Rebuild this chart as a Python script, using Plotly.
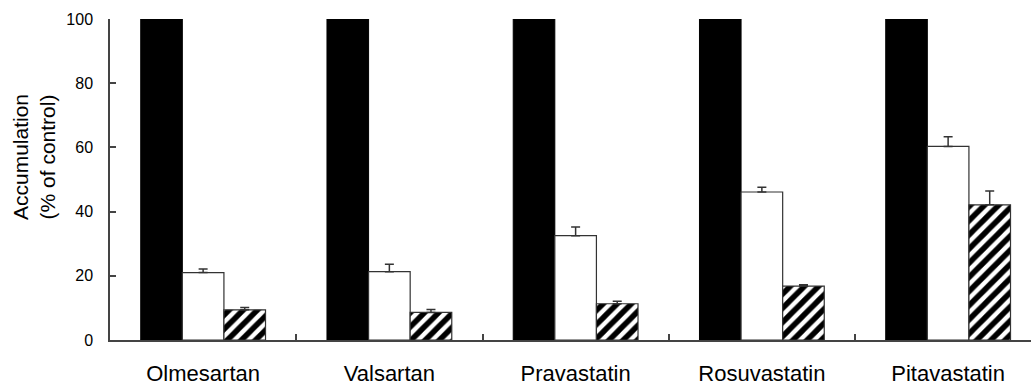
import plotly.graph_objects as go

categories = ["Olmesartan", "Valsartan", "Pravastatin", "Rosuvastatin", "Pitavastatin"]
control = [100, 100, 100, 100, 100]
white_vals = [21.0, 21.3, 32.5, 46.1, 60.3]
white_err = [1.1, 2.3, 2.7, 1.5, 3.0]
hatch_vals = [9.4, 8.6, 11.3, 16.8, 42.1]
hatch_err = [0.7, 0.9, 0.8, 0.4, 4.3]
y_ticks = [0, 20, 40, 60, 80, 100]

FONT = "Liberation Sans, Arial, sans-serif"
AX = "#444444"

fig = go.Figure()
fig.add_trace(go.Bar(
    x=categories, y=control, name="Control",
    marker=dict(color="black", line=dict(color="black", width=1)),
))
fig.add_trace(go.Bar(
    x=categories, y=white_vals, name="Condition 1",
    marker=dict(color="white", line=dict(color="#333333", width=1.2)),
    error_y=dict(type="data", symmetric=False, array=white_err,
                 arrayminus=[0] * len(white_err), color="#333333",
                 thickness=1.5, width=4.5),
))
fig.add_trace(go.Bar(
    x=categories, y=hatch_vals, name="Condition 2",
    marker=dict(color="white", line=dict(color="#333333", width=1.2),
                pattern=dict(shape="/", fgcolor="black", bgcolor="white",
                             fgopacity=1, size=10, solidity=0.55)),
    error_y=dict(type="data", symmetric=False, array=hatch_err,
                 arrayminus=[0] * len(hatch_err), color="#333333",
                 thickness=1.5, width=4.5),
))

fig.update_layout(
    width=1031, height=386,
    margin=dict(l=110, r=0, t=19, b=46, autoexpand=False),
    paper_bgcolor="white", plot_bgcolor="white",
    barmode="group", bargap=0.33, bargroupgap=0,
    showlegend=False,
    font=dict(family=FONT, color="black"),
    xaxis=dict(
        range=[-0.5, 4.445], showline=True, linecolor=AX, linewidth=1.5,
        ticks="inside", tickson="boundaries", ticklen=6, tickcolor=AX,
        tickwidth=1.5, tickfont=dict(size=22, family=FONT, color="black"),
        ticklabelstandoff=13, showgrid=False, zeroline=False, automargin=False,
    ),
    yaxis=dict(
        range=[0, 100], tickvals=y_ticks, showline=True, linecolor=AX,
        linewidth=1.5, ticks="inside", ticklen=6, tickcolor=AX, tickwidth=1.5,
        tickfont=dict(size=16, family=FONT, color="black"),
        ticklabelstandoff=12, showgrid=False, zeroline=False, automargin=False,
    ),
    annotations=[dict(
        text="Accumulation<br>(% of control)", textangle=-90,
        xref="paper", yref="y", x=(34 - 110) / 921, y=57,
        xanchor="center", yanchor="middle", showarrow=False,
        font=dict(size=21, family=FONT, color="black"),
    )],
)

fig.write_html(
    "out.html",
    config={"displayModeBar": False},
    post_script="document.body.style.margin='0';document.body.style.padding='0';"
                "document.body.style.overflow='hidden';",
)
